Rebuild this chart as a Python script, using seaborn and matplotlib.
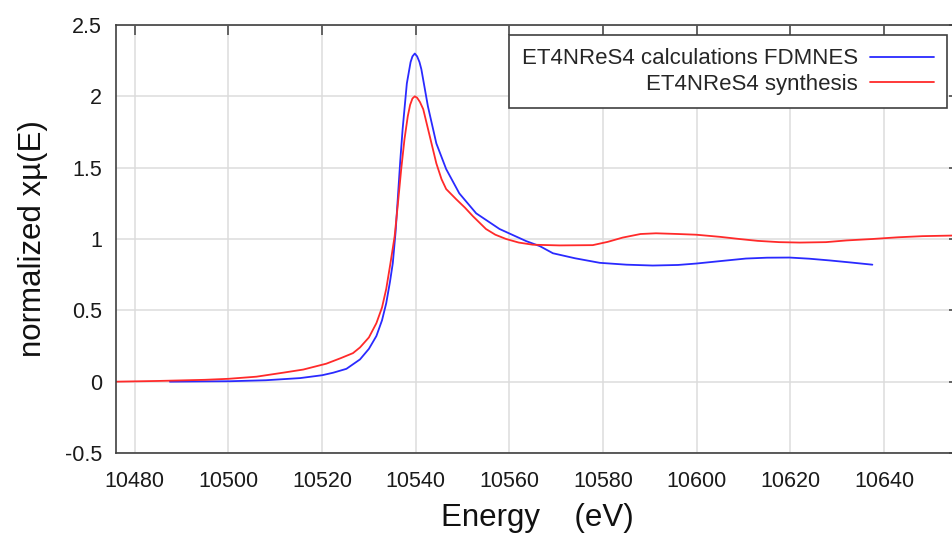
import matplotlib
matplotlib.use("Agg")
import matplotlib.pyplot as plt
from matplotlib.ticker import FuncFormatter
import pandas as pd
import seaborn as sns

# FDMNES calculation for ET4NReS4 (energy in eV, normalized absorption)
calc_energy = [
    10487.5, 10495, 10500.3, 10508, 10515.3, 10520, 10522.4, 10525.2, 10528.1,
    10530, 10531.6, 10532.8, 10533.7, 10534.5, 10535.1, 10535.7, 10536.2,
    10536.7, 10537.2, 10538.1, 10538.9, 10539.3, 10539.8, 10540.3, 10540.8,
    10541.2, 10542.6, 10544.4, 10546.5, 10549.3, 10552.9, 10557.9, 10563.6,
    10566.5, 10569.3, 10574, 10579.3, 10585, 10590.6, 10596, 10599.9, 10605,
    10610.5, 10615, 10619.8, 10624, 10628.3, 10633, 10637.5,
]
calc_mu = [
    0.000, 0.002, 0.003, 0.010, 0.025, 0.045, 0.063, 0.090, 0.156,
    0.23, 0.32, 0.43, 0.55, 0.70, 0.83, 1.05, 1.30,
    1.55, 1.77, 2.09, 2.24, 2.28, 2.30, 2.28, 2.24,
    2.19, 1.93, 1.67, 1.49, 1.32, 1.18, 1.07, 0.985,
    0.95, 0.90, 0.865, 0.833, 0.82, 0.814, 0.818, 0.828, 0.845,
    0.863, 0.869, 0.870, 0.862, 0.850, 0.835, 0.820,
]

# Measured spectrum of the synthesised ET4NReS4
synth_energy = [
    10476, 10485, 10495, 10500, 10506, 10511.7, 10516, 10520.9, 10524, 10526.6,
    10528.1, 10530, 10531.6, 10532.8, 10533.7, 10534.6, 10535.5, 10536.2,
    10536.9, 10537.6, 10538.3, 10538.8, 10539.3, 10539.8, 10540.3, 10540.9,
    10541.6, 10543, 10544.4, 10545.5, 10546.5, 10548.6, 10550.5, 10552.2,
    10555, 10557, 10559.3, 10562, 10565, 10570.7, 10577.8, 10581, 10584.2,
    10588, 10591.3, 10596, 10599.9, 10605, 10609.1, 10613, 10617.6, 10622,
    10627.6, 10632, 10637.5, 10643, 10648.2, 10656,
]
synth_mu = [
    0.000, 0.005, 0.013, 0.020, 0.035, 0.063, 0.085, 0.126, 0.165, 0.20,
    0.24, 0.31, 0.41, 0.52, 0.65, 0.83, 1.02, 1.25,
    1.49, 1.70, 1.86, 1.94, 1.985, 2.00, 1.99, 1.96,
    1.91, 1.72, 1.53, 1.42, 1.35, 1.28, 1.22, 1.16,
    1.07, 1.03, 1.00, 0.975, 0.96, 0.955, 0.957, 0.98, 1.01,
    1.035, 1.04, 1.035, 1.03, 1.015, 1.00, 0.987, 0.978, 0.975,
    0.978, 0.99, 1.00, 1.012, 1.02, 1.025,
]

series_labels = ["ET4NReS4 calculations FDMNES", "ET4NReS4 synthesis"]
series_colors = ["#2a2aff", "#ff2a2a"]

x_ticks = [10480, 10500, 10520, 10540, 10560, 10580, 10600, 10620, 10640]
y_ticks = [-0.5, 0, 0.5, 1, 1.5, 2, 2.5]

df = pd.concat([
    pd.DataFrame({"energy": calc_energy, "mu": calc_mu, "series": series_labels[0]}),
    pd.DataFrame({"energy": synth_energy, "mu": synth_mu, "series": series_labels[1]}),
], ignore_index=True)

sns.set_theme(style="white")
plt.rcParams["font.family"] = ["Liberation Sans", "DejaVu Sans"]
plt.rcParams["axes.unicode_minus"] = False

W, H = 952, 535
fig = plt.figure(figsize=(W / 100, H / 100), dpi=100)
ax = fig.add_axes([116 / W, 82 / H, 843 / W, 428 / H])

sns.lineplot(
    data=df, x="energy", y="mu", hue="series", hue_order=series_labels,
    palette=dict(zip(series_labels, series_colors)), linewidth=1.3,
    ax=ax, legend=False, estimator=None,
)

ax.set_xlim(10476, 10656)
ax.set_ylim(-0.5, 2.5)
ax.set_xticks(x_ticks)
ax.set_yticks(y_ticks)
ax.yaxis.set_major_formatter(FuncFormatter(lambda v, p: f"{v:g}"))
ax.xaxis.set_major_formatter(FuncFormatter(lambda v, p: f"{v:.0f}"))

ax.grid(True, color="#dcdcdc", linewidth=1.1)
ax.set_axisbelow(True)
for side, sp in ax.spines.items():
    sp.set_visible(True)
    sp.set_color("#404040")
    sp.set_linewidth(1.2)

ax.tick_params(axis="both", which="major", direction="in", length=7.2, width=1.1,
               color="#404040", top=True, right=True, labelsize=15.5,
               labelcolor="#1a1a1a")
ax.tick_params(axis="x", pad=13)
ax.tick_params(axis="y", pad=10)

ax.set_xlabel("Energy    (eV)", fontsize=22.5, color="#111111", labelpad=8)
ax.set_ylabel("normalized xµ(E)", fontsize=22.5, color="#111111", labelpad=12)

handles = [plt.Line2D([], [], color=c, linewidth=1.3) for c in series_colors]
leg = ax.legend(
    handles, series_labels, loc="upper right",
    bbox_to_anchor=(947 / W, 1 - 35 / H), bbox_transform=fig.transFigure,
    borderaxespad=0, markerfirst=False, fontsize=16, frameon=True,
    fancybox=False, edgecolor="#404040", framealpha=1,
    handlelength=2.85, handletextpad=0.55, borderpad=0.6, labelspacing=0.2,
)
leg.get_frame().set_linewidth(1.2)

fig.savefig("out.png", dpi=100)
